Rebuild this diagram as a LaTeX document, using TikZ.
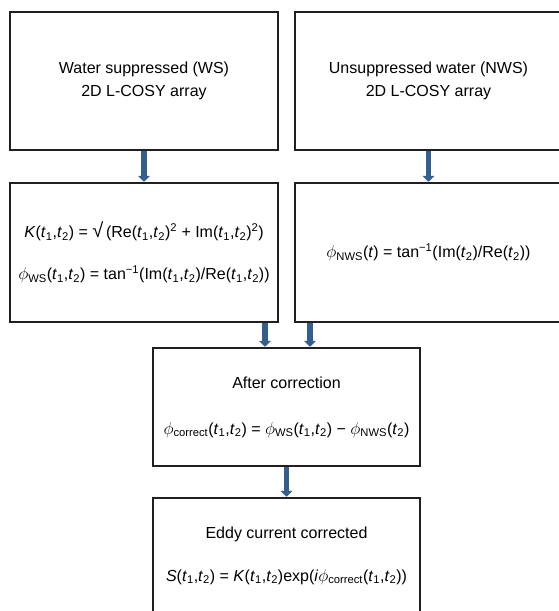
\documentclass[tikz,border=0pt]{standalone}
\usepackage{fontspec}
\setmainfont{Liberation Sans}
\usetikzlibrary{arrows.meta}

\definecolor{boxline}{RGB}{35,31,32}
\definecolor{arrowblue}{RGB}{52,94,142}

\newcommand{\tsub}[1]{\textit{t}\textsubscript{#1}}
\newcommand{\phiit}{$\phi$}

\tikzset{
	flowbox/.style={draw=boxline, line width=2.5pt, fill=white, align=center,
		minimum width=268pt, font=\fontsize{16}{23}\selectfont},
	flowarrow/.style={draw=arrowblue, line width=5.5pt,
		-{Triangle[width=12pt,length=6pt]}}
}

\begin{document}
\begin{tikzpicture}[x=1pt,y=-1pt]

		\useasboundingbox (0,0) rectangle (558,611);

		\node (WSArray) at (144,81) [flowbox,minimum height=138pt]{Water suppressed (WS)\\2D L-COSY array};
		\node (NWSArray) at (428.5,81) [flowbox,minimum width=267pt,minimum height=138pt]{Unsuppressed water (NWS)\\2D L-COSY array};

		\node (WSPhase) at (144,252.5) [flowbox,minimum height=139pt]{\textit{K}(\tsub{1},\tsub{2}) = {\fontsize{20}{23}\selectfont √}\,(Re(\tsub{1},\tsub{2})\textsuperscript{2} + Im(\tsub{1},\tsub{2})\textsuperscript{2})\\[19pt]
			\phiit\textsubscript{WS}(\tsub{1},\tsub{2}) = tan\textsuperscript{−1}(Im(\tsub{1},\tsub{2})/Re(\tsub{1},\tsub{2}))};
		\node (NWSPhase) at (428.5,252.5) [flowbox,minimum width=267pt,minimum height=139pt]{\phiit\textsubscript{NWS}(\textit{t}) = tan\textsuperscript{−1}(Im(\tsub{2})/Re(\tsub{2}))};

		\node (AfterCorrection) at (286.5,407) [flowbox,minimum width=267pt,minimum height=118pt]{After correction\\[23pt]
			\phiit\textsubscript{correct}(\tsub{1},\tsub{2}) = \phiit\textsubscript{WS}(\tsub{1},\tsub{2}) − \phiit\textsubscript{NWS}(\tsub{2})};

		\node (EddyCorrected) at (286.5,555.5) [flowbox,minimum width=267pt,minimum height=115pt]{Eddy current corrected\\[20pt]
			\textit{S}(\tsub{1},\tsub{2}) = \textit{K}(\tsub{1},\tsub{2})exp(\textit{i}\phiit\textsubscript{correct}(\tsub{1},\tsub{2}))};

		\draw [flowarrow] (WSArray) -- (WSPhase);
		\draw [flowarrow] (NWSArray) -- (NWSPhase);

		\draw [flowarrow] ([xshift=-21.5pt]AfterCorrection.north |- WSPhase.south) -- ([xshift=-21.5pt]AfterCorrection.north);
		\draw [flowarrow] ([xshift=23.5pt]AfterCorrection.north |- NWSPhase.south) -- ([xshift=23.5pt]AfterCorrection.north);

		\draw [flowarrow] (AfterCorrection) -- (EddyCorrected);
	\end{tikzpicture}
\end{document}
